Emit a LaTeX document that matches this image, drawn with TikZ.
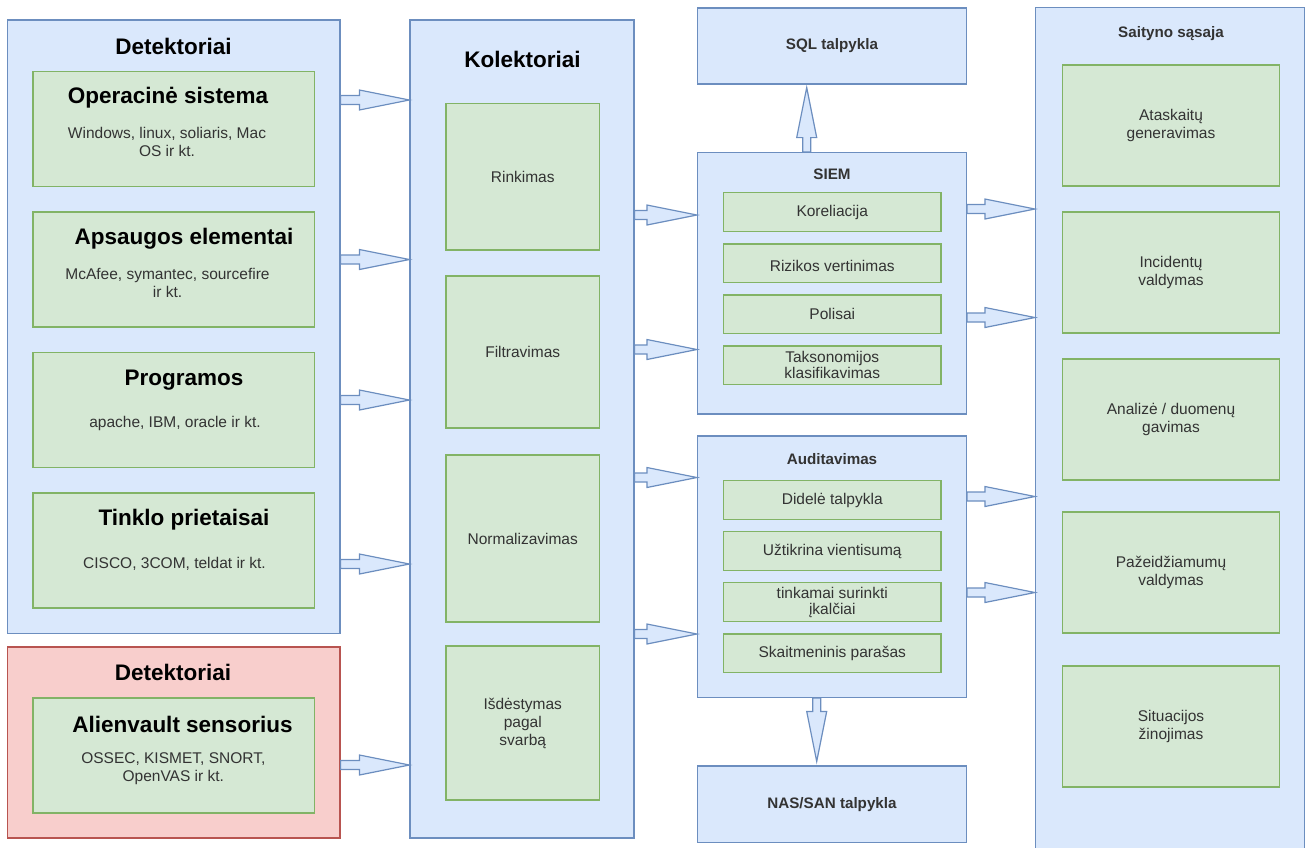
\documentclass[tikz,border=0pt]{standalone}
\usepackage{fontspec}
\setmainfont{Liberation Sans}
\usetikzlibrary{calc}
\definecolor{bfill}{HTML}{DAE8FC}
\definecolor{bline}{HTML}{6C8EBF}
\definecolor{gfill}{HTML}{D5E8D4}
\definecolor{gline}{HTML}{82B366}
\definecolor{rfill}{HTML}{F8CECC}
\definecolor{rline}{HTML}{B85450}
\definecolor{txt}{HTML}{333333}
\tikzset{
  box/.style={rectangle, draw, line width=1.2pt, inner sep=0pt},
  bluebox/.style={box, fill=bfill, draw=bline},
  greenbox/.style={box, fill=gfill, draw=gline},
  redbox/.style={box, fill=rfill, draw=rline},
  bigt/.style={font=\fontsize{22.5}{26}\selectfont\bfseries, text=black, inner sep=0pt},
  smallt/.style={font=\fontsize{15.5}{18}\selectfont, text=txt, align=center, inner sep=0pt},
  smallb/.style={font=\fontsize{15.2}{18}\selectfont\bfseries, text=txt, align=center, inner sep=0pt},
  barrow/.style={fill=bfill, draw=bline, line width=1.2pt, line join=miter},
}
% horizontal block arrow from the east side of #1 to the west side of #2 at height #3
\newcommand\harr[3]{%
  \path (#1.east |- 0,#3) coordinate (s) (#2.west |- 0,#3) coordinate (t);
  \draw[barrow] ($(s)+(0,-4.5)$) -- ($(t)+(-50,-4.5)$) -- ($(t)+(-50,-10)$) -- (t)
    -- ($(t)+(-50,10)$) -- ($(t)+(-50,4.5)$) -- ($(s)+(0,4.5)$) -- cycle;}
\begin{document}
\begin{tikzpicture}[x=1pt,y=-1pt]
\useasboundingbox (0,0) rectangle (1306,847);

% ---- detectors ----
\node[bluebox, minimum width=332.5pt, minimum height=613.5pt] (det) at (173.75,326.75) {};
\node[bigt] (detT) at (173.5,46) {Detektoriai};
\node[greenbox, minimum width=281.5pt, minimum height=115pt] (os) at (173.75,129) {};
\node[bigt] (osT) at (168,98) {Operacinė sistema};
\node[smallt] (osS) at (167,142) {Windows, linux, soliaris, Mac\\OS ir kt.};
\node[greenbox, minimum width=281.5pt, minimum height=115pt] (aps) at (173.75,269.5) {};
\node[bigt] (apsT) at (184,239) {Apsaugos elementai};
\node[smallt] (apsS) at (167.5,283) {McAfee, symantec, sourcefire\\ir kt.};
\node[greenbox, minimum width=281.5pt, minimum height=115pt] (prog) at (173.75,410) {};
\node[bigt] (progT) at (184,380) {Programos};
\node[smallt] (progS) at (175,423) {apache, IBM, oracle ir kt.};
\node[greenbox, minimum width=281.5pt, minimum height=115pt] (tinkl) at (173.75,550.5) {};
\node[bigt] (tinklT) at (184,520) {Tinklo prietaisai};
\node[smallt] (tinklS) at (174.5,563.5) {CISCO, 3COM, teldat ir kt.};

\node[redbox, minimum width=332.5pt, minimum height=191pt] (red) at (173.75,742.5) {};
\node[bigt] (redT) at (173,672.5) {Detektoriai};
\node[greenbox, minimum width=281.5pt, minimum height=115pt] (alien) at (173.75,755.5) {};
\node[bigt] (alienT) at (182.5,724) {Alienvault sensorius};
\node[smallt] (alienS) at (173.3,769) {OSSEC, KISMET, SNORT,\\OpenVAS ir kt.};

% ---- collectors ----
\node[bluebox, minimum width=224pt, minimum height=818pt] (kol) at (522,429) {};
\node[bigt] (kolT) at (522.5,59.5) {Kolektoriai};
\node[greenbox, minimum width=153.5pt, minimum height=146.5pt] (rink) at (522.75,176.75) {};
\node[smallt] at (rink) {Rinkimas};
\node[greenbox, minimum width=153.5pt, minimum height=152pt] (filt) at (522.75,352) {};
\node[smallt] at (filt) {Filtravimas};
\node[greenbox, minimum width=153.5pt, minimum height=167pt] (norm) at (522.75,538.5) {};
\node[smallt] at (norm) {Normalizavimas};
\node[greenbox, minimum width=153.5pt, minimum height=154pt] (isd) at (522.75,723) {};
\node[smallt] at (isd) {Išdėstymas\\pagal\\svarbą};

% ---- SIEM, audit and storage ----
\node[bluebox, minimum width=269pt, minimum height=76pt] (sql) at (832,46) {};
\node[smallb] at (sql) {SQL talpykla};
\node[bluebox, minimum width=269pt, minimum height=261.5pt] (siem) at (832,283.25) {};
\node[smallb] (siemT) at (832,174) {SIEM};
\node[greenbox, minimum width=217.5pt, minimum height=38.5pt] (kor) at (832.25,212) {};
\node[smallt] at (kor) {Koreliacija};
\node[greenbox, minimum width=217.5pt, minimum height=38.5pt] (riz) at (832.25,263.25) {};
\node[smallt] at ([yshift=-3pt]riz.center) {Rizikos vertinimas};
\node[greenbox, minimum width=217.5pt, minimum height=38.5pt] (pol) at (832.25,314.25) {};
\node[smallt] at (pol) {Polisai};
\node[greenbox, minimum width=217.5pt, minimum height=38.5pt] (tak) at (832.25,365.25) {};
\node[smallt, font=\fontsize{15.5}{16}\selectfont] at (tak) {Taksonomijos\\klasifikavimas};

\node[bluebox, minimum width=269pt, minimum height=261.5pt] (aud) at (832,566.75) {};
\node[smallb] (audT) at (832,459.5) {Auditavimas};
\node[greenbox, minimum width=217.5pt, minimum height=38.5pt] (did) at (832.25,500) {};
\node[smallt] at (did) {Didelė talpykla};
\node[greenbox, minimum width=217.5pt, minimum height=38.5pt] (uzt) at (832.25,551) {};
\node[smallt] at (uzt) {Užtikrina vientisumą};
\node[greenbox, minimum width=217.5pt, minimum height=38.5pt] (tink) at (832.25,602) {};
\node[smallt, font=\fontsize{15.5}{16}\selectfont] at (tink) {tinkamai surinkti\\įkalčiai};
\node[greenbox, minimum width=217.5pt, minimum height=38.5pt] (skait) at (832.25,653.25) {};
\node[smallt] at (skait) {Skaitmeninis parašas};

\node[bluebox, minimum width=269pt, minimum height=76.5pt] (nas) at (832,804.25) {};
\node[smallb] at (nas) {NAS/SAN talpykla};

% ---- web interface ----
\node[bluebox, minimum width=269pt, minimum height=862.5pt] (web) at (1170,438.75) {};
\node[smallb] (webT) at (1171,33.5) {Saityno sąsaja};
\node[greenbox, minimum width=217pt, minimum height=121pt] (atask) at (1171,125.5) {};
\node[smallt] at (atask) {Ataskaitų\\generavimas};
\node[greenbox, minimum width=217pt, minimum height=121pt] (inc) at (1171,272.5) {};
\node[smallt] at (inc) {Incidentų\\valdymas};
\node[greenbox, minimum width=217pt, minimum height=121pt] (anal) at (1171,419.5) {};
\node[smallt] at (anal) {Analizė / duomenų\\gavimas};
\node[greenbox, minimum width=217pt, minimum height=121pt] (paz) at (1171,572.5) {};
\node[smallt] at (paz) {Pažeidžiamumų\\valdymas};
\node[greenbox, minimum width=217pt, minimum height=121pt] (sit) at (1171,726.5) {};
\node[smallt] at (sit) {Situacijos\\žinojimas};

% ---- block arrows ----
\harr{det}{kol}{100}
\harr{det}{kol}{259.5}
\harr{det}{kol}{400}
\harr{det}{kol}{564}
\harr{red}{kol}{765}
\harr{kol}{siem}{215}
\harr{kol}{siem}{349.5}
\harr{kol}{aud}{477.5}
\harr{kol}{aud}{634}
\harr{siem}{web}{209}
\harr{siem}{web}{317.5}
\harr{aud}{web}{496.5}
\harr{aud}{web}{592.5}

% SIEM up to SQL storage
\path (806.7,0 |- siem.north) coordinate (su) ($(806.7,0 |- sql.south)+(0,3)$) coordinate (tu);
\draw[barrow] ($(su)+(-4,0)$) -- ($(tu)+(-4,50)$) -- ($(tu)+(-10,50)$) -- (tu)
  -- ($(tu)+(10,50)$) -- ($(tu)+(4,50)$) -- ($(su)+(4,0)$) -- cycle;
% audit down to NAS/SAN storage
\path (816.7,0 |- aud.south) coordinate (sd) ($(816.7,0 |- nas.north)+(0,-4)$) coordinate (td);
\draw[barrow] ($(sd)+(-4,0)$) -- ($(td)+(-4,-50)$) -- ($(td)+(-10,-50)$) -- (td)
  -- ($(td)+(10,-50)$) -- ($(td)+(4,-50)$) -- ($(sd)+(4,0)$) -- cycle;
\end{tikzpicture}
\end{document}
